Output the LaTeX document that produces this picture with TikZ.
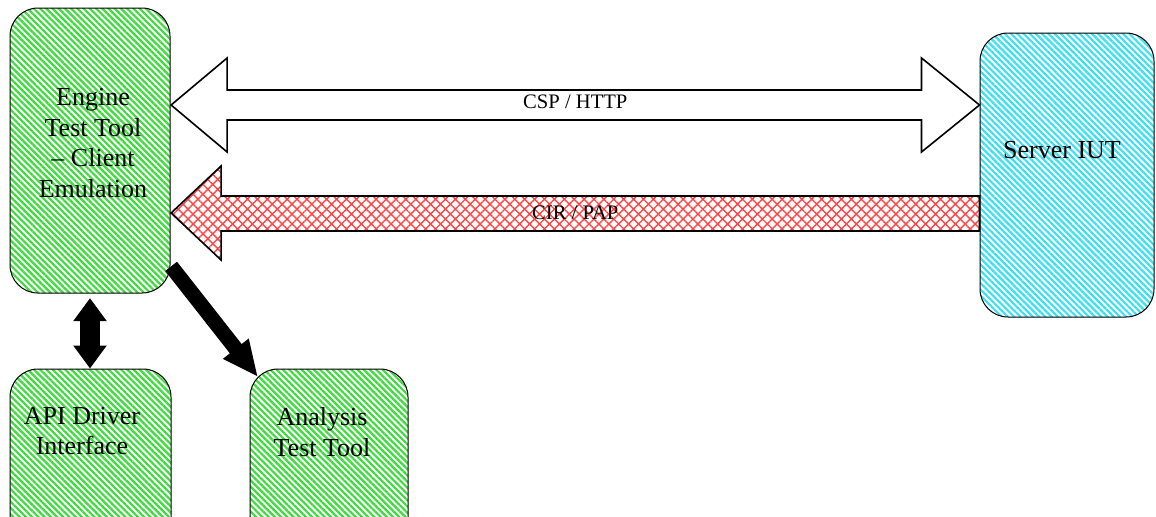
\documentclass[tikz,border=0pt]{standalone}
\usepackage{fontspec}
\setmainfont{Liberation Serif}
\usetikzlibrary{calc,patterns.meta,arrows.meta}

\definecolor{stripegreen}{RGB}{60,220,60}
\definecolor{stripecyan}{RGB}{60,225,240}
\definecolor{hatchred}{RGB}{255,70,70}

\begin{document}
\begin{tikzpicture}[x=0.5pt, y=-0.5pt,
    box/.style={draw, line width=0.5pt, rounded corners=14pt, inner sep=0pt},
    greenbox/.style={box, pattern={Lines[angle=-45,distance=2.2pt,line width=1.1pt]}, pattern color=stripegreen},
    cyanbox/.style={box, pattern={Lines[angle=-45,distance=2.2pt,line width=1.1pt]}, pattern color=stripecyan},
    boxtext/.style={align=center, inner sep=0pt, font=\fontsize{13}{15.25}\selectfont},
    blockarrow/.style={draw, line width=0.8pt, line join=miter},
    arrowtext/.style={inner sep=0pt, font=\fontsize{10.3}{12}\selectfont}
]

    % Page size and white background
    \useasboundingbox (0,0) rectangle (1156,516);
    \clip (0,0) rectangle (1156,516);
    \fill[white] (0,0) rectangle (1156,516);

    % Boxes
    \node[greenbox, minimum width=80pt, minimum height=142.5pt] (engine) at (90,150.5) {};
    \node[cyanbox, minimum width=87pt, minimum height=142pt] (server) at (1067,175) {};
    \node[greenbox, minimum width=80.5pt, minimum height=88pt] (api) at (90.5,457) {};
    \node[greenbox, minimum width=79pt, minimum height=88pt] (analysis) at (329,457) {};

    % Box texts
    \node[boxtext] (enginetxt) at (93,143) {Engine\\Test Tool\\– Client\\Emulation};
    \node[boxtext] (servertxt) at (1062,150) {Server IUT};
    \node[boxtext] (apitxt) at (82,431) {API Driver\\Interface};
    \node[boxtext] (analysistxt) at (322,432) {Analysis\\Test Tool};

    % End points of the two block arrows
    \coordinate (cspL) at (engine.east |- 0,105);
    \coordinate (cspR) at (server.west |- 0,105);
    \coordinate (cirL) at (engine.east |- 0,213);
    \coordinate (cirR) at (server.west |- 0,213);

    % CSP / HTTP double block arrow
    \draw[blockarrow, fill=white] (cspL) -- ++(56,-47) |- ($(cspR)+(-58,-15)$) -- ++(0,-32) -- (cspR)
        -- ++(-58,47) -- ++(0,-32) -- ($(cspL)+(56,15)$) -- ++(0,32) -- cycle;
    \node[arrowtext] (csp) at ($(cspL)!0.5!(cspR)$) [yshift=1.5pt] {CSP / HTTP};

    % CIR / PAP block arrow
    \draw[blockarrow, pattern={Hatch[angle=45,distance=3.5pt,line width=0.7pt]}, pattern color=hatchred]
        (cirL) -- ++(50,-47) -- ++(0,30) -- ($(cirR)+(0,-17)$) -- ++(0,35)
        -- ($(cirL)+(50,18)$) -- ++(0,29) -- cycle;
    \node[arrowtext] (cir) at ($(cirL)!0.5!(cirR)$) {CIR / PAP};

    % Black arrows to the lower boxes
    \coordinate (diagend) at ($(analysis.north west)+(8.5,8.5)$);
    \draw[line width=10pt, {Triangle[length=11.5pt,width=16pt]}-{Triangle[length=11.5pt,width=16pt]}]
        ($(engine.south)+(0,4)$) -- (engine.south |- api.north);
    \draw[line width=7.5pt, -{Triangle[length=18pt,width=15pt]}] (engine.-55) -- (diagend);

\end{tikzpicture}
\end{document}
